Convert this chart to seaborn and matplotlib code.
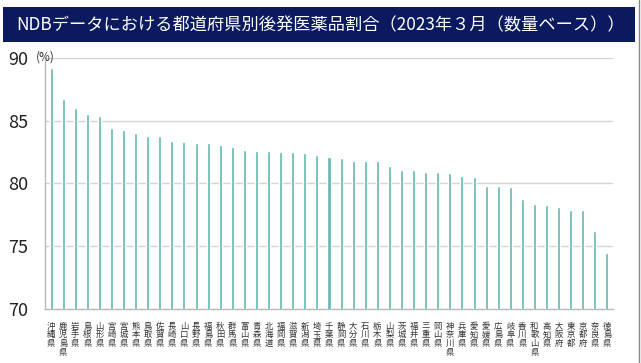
import matplotlib
matplotlib.use("Agg")
import pandas as pd
import matplotlib.pyplot as plt
import seaborn as sns
from matplotlib.patches import Rectangle
from matplotlib.lines import Line2D
from matplotlib.ticker import FixedLocator

# Data
prefectures = [
    "沖縄県", "鹿児島県", "岩手県", "島根県", "山形県", "宮崎県", "宮城県", "熊本県",
    "鳥取県", "佐賀県", "長崎県", "山口県", "長野県", "福島県", "秋田県", "群馬県",
    "富山県", "青森県", "北海道", "福岡県", "滋賀県", "新潟県", "埼玉県", "千葉県",
    "静岡県", "大分県", "石川県", "栃木県", "山梨県", "茨城県", "福井県", "三重県",
    "岡山県", "神奈川県", "兵庫県", "愛知県", "愛媛県", "広島県", "岐阜県", "香川県",
    "和歌山県", "高知県", "大阪府", "東京都", "京都府", "奈良県", "徳島県",
]
share = [
    89.2, 86.7, 86.0, 85.5, 85.4, 84.4, 84.3, 84.0,
    83.8, 83.8, 83.4, 83.3, 83.2, 83.2, 83.1, 82.9,
    82.7, 82.6, 82.6, 82.5, 82.5, 82.4, 82.3, 82.1,
    82.0, 81.8, 81.8, 81.8, 81.4, 81.1, 81.1, 80.9,
    80.9, 80.8, 80.6, 80.5, 79.8, 79.8, 79.7, 78.8,
    78.4, 78.3, 78.1, 77.9, 77.9, 76.2, 74.5,
]
yticks = [70, 75, 80, 85, 90]
title = "NDBデータにおける都道府県別後発医薬品割合（2023年３月（数量ベース））"

df = pd.DataFrame({"pref": prefectures, "share": share})

sns.set_style("white")
plt.rcParams["font.family"] = ["Noto Sans CJK JP", "DejaVu Sans"]

fig = plt.figure(figsize=(6.41, 3.63), dpi=100)
ax = fig.add_axes([45 / 641, 1 - 309 / 363, 568 / 641, 251 / 363])

sns.barplot(data=df, x="pref", y="share", color="#5FB8AF", width=0.25,
            saturation=1, ax=ax, zorder=3)

ax.set_ylim(70, 90)
ax.set_xlim(-0.5, len(prefectures) - 0.5)
ax.set_yticks(yticks)
ax.set_yticklabels([str(v) for v in yticks], fontsize=13, color="#222222")
ax.yaxis.grid(True, color="#D4D4D4", linewidth=1, zorder=0)
ax.set_xlabel("")
ax.set_ylabel("")

# vertical stacked labels
ax.set_xticks(range(len(prefectures)))
ax.set_xticklabels(["\n".join(p) for p in prefectures], fontsize=6.0,
                   color="#333333", linespacing=0.98, va="top")
ax.tick_params(axis="x", which="major", length=0, pad=9)
ax.tick_params(axis="y", length=0, pad=12)
ax.xaxis.set_minor_locator(FixedLocator([i - 0.5 for i in range(len(prefectures) + 1)]))
ax.tick_params(axis="x", which="minor", length=3, color="#BBBBBB", direction="out")

for s in ["top", "right"]:
    ax.spines[s].set_visible(False)
for s in ["left", "bottom"]:
    ax.spines[s].set_color("#BBBBBB")
    ax.spines[s].set_linewidth(1)

fig.text(36 / 641, 1 - 57 / 363, "(%)", fontsize=8.5, color="#333333", va="center")

# title banner
fig.patches.append(Rectangle((3 / 641, 1 - 42 / 363), 632 / 641, 35 / 363,
                             transform=fig.transFigure, facecolor="#0B1A5E",
                             edgecolor="none", zorder=0))
fig.text(16 / 641, 1 - 25 / 363, title, fontsize=12.4, color="white", va="center")

fig.add_artist(Line2D([639 / 641, 639 / 641], [0, 1], transform=fig.transFigure,
                      color="#888888", linewidth=1))

fig.savefig("out.png", dpi=100)
